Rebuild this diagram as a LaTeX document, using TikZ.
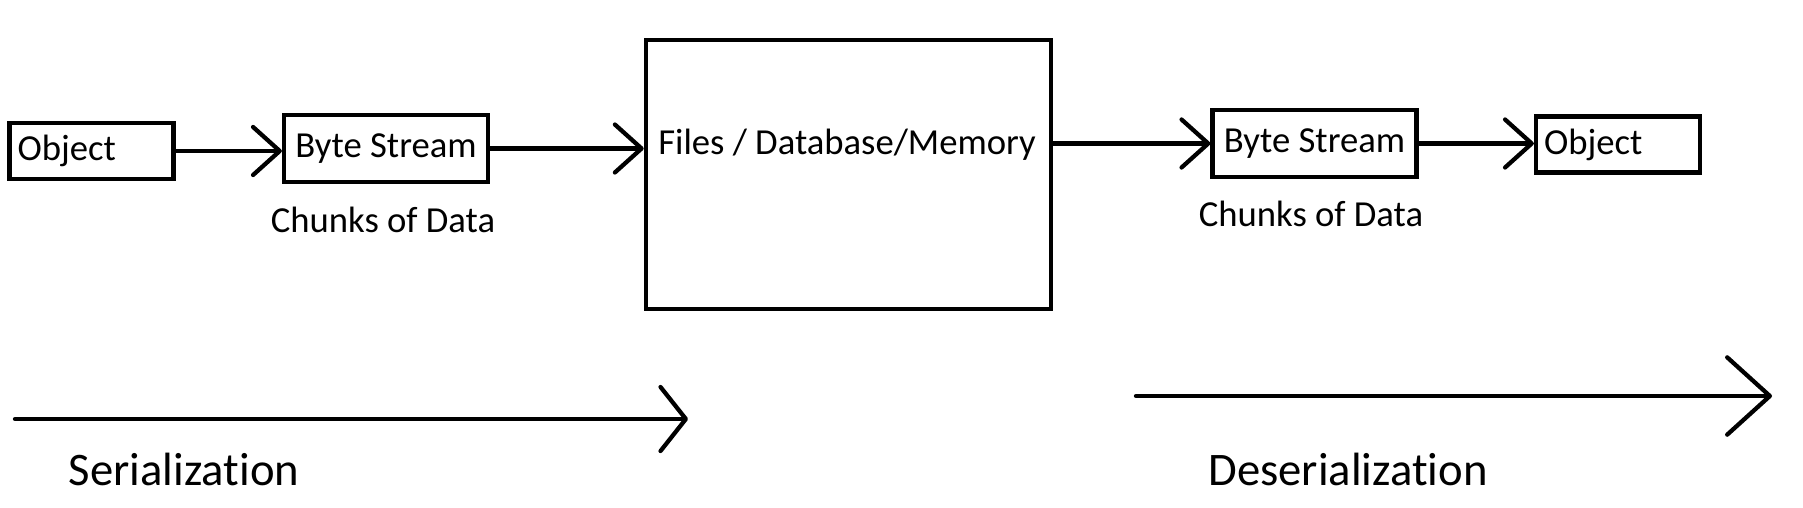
\documentclass[tikz,border=0pt]{standalone}
\usepackage{fontspec}
\setmainfont[Ligatures=NoCommon]{Carlito}
\usetikzlibrary{arrows.meta,positioning}
\tikzset{
  % plain outlined boxes, black stroke
  box/.style      = {rectangle, draw=black, line width=3.2pt, inner sep=4pt,
                     font=\fontsize{27.5}{30}\selectfont},
  objbox/.style   = {box, minimum width=123pt, minimum height=42pt,
                     text width=111pt, align=left},
  bytebox/.style  = {box, minimum width=153pt, minimum height=50pt},
  storebox/.style = {box, minimum width=304pt, minimum height=202pt},
  arr/.style      = {-{Straight Barb[length=20pt,width=36pt,round]}, line width=3.2pt},
  flow/.style     = {line width=3.2pt, line cap=round},
  lbl/.style      = {font=\fontsize{27.5}{30}\selectfont},
  big/.style      = {font=\fontsize{35}{40}\selectfont},
}
\begin{document}
\begin{tikzpicture}[x=0.75pt,y=-0.75pt]
\useasboundingbox (0,0) rectangle (1803,507);
% top row
\node[objbox]  (obj1)  at (91.5,151)    {Object};
\node[bytebox] (bs1)   at (386,148.5)   {Byte Stream};
\node[storebox](store) at (848.5,174.5) {};
\node[lbl, anchor=west, inner sep=0pt] (storelbl) at (658,145) {Files / Database/Memory};
\node[bytebox] (bs2)   at (1314.5,143.5) {Byte Stream};
\node[objbox]  (obj2)  at (1618,144.5)  {Object};
\node[lbl] (chunks1) at (383,220)  {Chunks of Data};
\node[lbl] (chunks2) at (1311,214) {Chunks of Data};
% connectors
\draw[arr] (obj1.east) -- (obj1.east -| bs1.west);
\draw[arr] (bs1.east) -- (bs1.east -| store.west);
\draw[arr] (store.east |- bs2.west) -- (bs2.west);
\draw[arr] (bs2.east) -- (bs2.east -| obj2.west);
% direction arrows
\coordinate (serA) at (15,419);
\coordinate (serB) at (688,419);
\coordinate (desA) at (1136,396);
\coordinate (desB) at (1772,396);
\draw[flow, -{Straight Barb[length=19pt,width=48pt,round]}] (serA) -- (serB);
\draw[flow, -{Straight Barb[length=32pt,width=58pt,round]}] (desA) -- (desB);
\node[big] (serlbl) at (184,469)  {Serialization};
\node[big] (deslbl) at (1348,469) {Deserialization};
\end{tikzpicture}
\end{document}
